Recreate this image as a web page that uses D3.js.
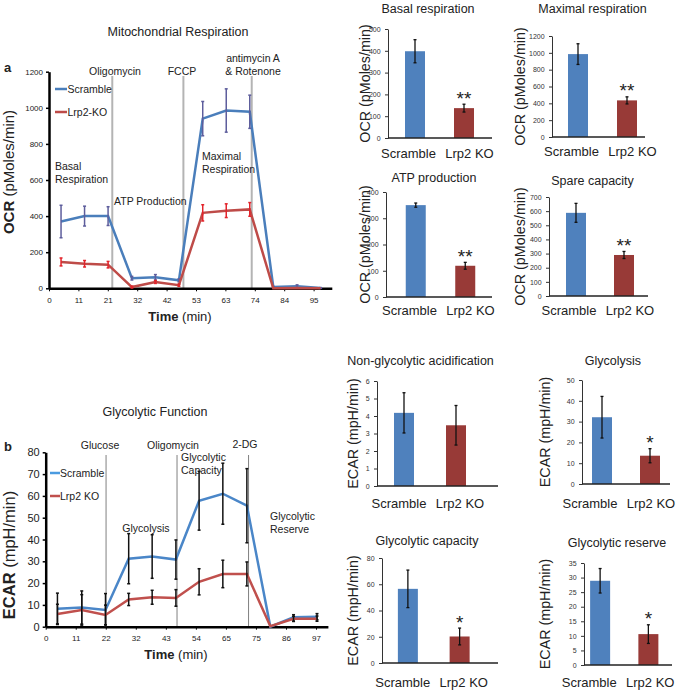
<!DOCTYPE html>
<html>
<head>
<meta charset="utf-8">
<script src="https://cdn.jsdelivr.net/npm/d3@7"></script>
<style>
body { margin: 0; background: #fff; }
svg { font-family: "Liberation Sans", Arial, sans-serif; }
</style>
</head>
<body>
<svg id="fig" width="677" height="690"></svg>
<script>
// ---- mitochondrial respiration (OCR) time course ----
const timeA = [4.3, 12.7, 21.1, 29.6, 38.0, 46.4, 54.9, 63.3, 71.7, 80.1, 88.6, 97.0]
const ocrScramble = [370, 400, 400, 56, 61, 44, 940, 985, 978, 7, 11, 2]
const ocrScrambleErr = [90, 55, 52, 10, 15, 8, 95, 120, 92, 3, 8, 2]
const ocrKO = [146, 136, 131, 7, 35, 17, 418, 430, 437, 0, 2, 0]
const ocrKOErr = [22, 18, 18, 5, 8, 6, 45, 38, 38, 0, 0, 0]
const ticksA = [0, 10.5, 21, 31.5, 42, 52.5, 63, 73.5, 84, 94.5]
const tickLabelsA = ["0", "11", "21", "32", "42", "53", "63", "74", "84", "95"]
const injA = [22.6, 48.0, 72.4]

// ---- glycolytic function (ECAR) time course ----
const timeB = [4.2, 12.9, 21.4, 29.7, 38.1, 46.6, 54.9, 63.4, 72.0, 80.4, 88.7, 97.1]
const ecarScramble = [8.2, 8.8, 7.7, 31.2, 32.2, 30.8, 57.8, 61.0, 55.5, 0, 4.3, 4.6]
const ecarScrambleErr = [7.2, 7.6, 7.5, 11.5, 10, 9, 13.5, 14, 17, 0, 1.2, 1.4]
const ecarKO = [5.8, 7.7, 5.4, 12.5, 13.5, 13.2, 20.6, 24.2, 24.2, 0.2, 3.6, 3.7]
const ecarKOErr = [4.5, 7, 4.5, 2.8, 3.2, 3.8, 6, 6.3, 5.5, 0, 1.2, 1.2]
const ticksB = [0, 10.75, 21.5, 32.25, 43, 53.75, 64.5, 75.25, 86, 96.75]
const tickLabelsB = ["0", "11", "22", "32", "43", "54", "65", "75", "86", "97"]
const injB = [21.6, 47.0, 72.6]

// ---- bar panels ----
const groups = ["Scramble", "Lrp2 KO"]
const basal = [398, 137], basalErr = [53, 18]
const maximal = [985, 435], maximalErr = [123, 42]
const atp = [350, 119], atpErr = [8, 13]
const spare = [588, 290], spareErr = [67, 25]
const nonGly = [4.18, 3.47], nonGlyErr = [1.15, 1.13]
const glycolysis = [32.1, 13.6], glycolysisErr = [10, 3.4]
const glyCap = [56.5, 20.2], glyCapErr = [14.3, 6.4]
const glyRes = [28.9, 10.6], glyResErr = [4.2, 3.2]

const svg = d3.select("#fig")
const blue = "#4a7ebb", red = "#be4b48"

var txt = (g, x, y, s, size, anchor, extra) => {
    let t = g.append("text").attr("x", x).attr("y", y).attr("font-size", size)
        .attr("text-anchor", anchor || "start").attr("fill", "#222").text(s)
    if (extra) extra(t)
    return t
}

var lineChart = (c) => {
    let g = svg.append("g")
    let x = d3.scaleLinear().domain([0, 101]).range(c.xRange)
    let y = d3.scaleLinear().domain([0, c.yMax]).range(c.yRange)

    g.selectAll(".inj").data(c.inj).join("line")
        .attr("x1", d => x(d)).attr("x2", d => x(d))
        .attr("y1", c.injTop).attr("y2", y(0))
        .attr("stroke", c.injColor).attr("stroke-width", c.injWidth)

    let xAxis = g.append("g").attr("transform", `translate(0,${y(0)})`)
        .call(d3.axisBottom(x).tickValues(c.ticks).tickFormat((d, i) => c.tickLabels[i]).tickSize(3).tickSizeOuter(0))
    xAxis.select(".domain").attr("stroke", "#000").attr("stroke-width", 2.5)
    xAxis.selectAll("text").attr("font-size", 8).attr("fill", "#222").attr("dy", "1.1em")

    let yAxis = g.append("g").attr("transform", `translate(${x(0)},0)`)
        .call(d3.axisLeft(y).tickValues(d3.range(0, c.yMax + 1, c.yStep)).tickFormat(d3.format("d")).tickSize(3).tickSizeOuter(0))
    yAxis.select(".domain").attr("stroke", "#000").attr("stroke-width", 2.5)
    yAxis.selectAll(".tick line").attr("stroke-width", 1.5)
    yAxis.selectAll("text").attr("font-size", c.yFont).attr("fill", "#222")

    let line = d3.line().x(d => x(d.t)).y(d => y(d.v))
    c.series.forEach(s => {
        let pts = s.t.map((t, i) => ({ t: t, v: s.v[i], e: s.e[i] }))
        g.append("path").datum(pts).attr("d", line)
            .attr("fill", "none").attr("stroke", s.color).attr("stroke-width", 2.5)
        let eb = g.append("g").attr("stroke", s.errColor).attr("stroke-width", 1.5)
        eb.selectAll(".v").data(pts.filter(d => d.e > 0)).join("line")
            .attr("x1", d => x(d.t)).attr("x2", d => x(d.t))
            .attr("y1", d => y(d.v - d.e)).attr("y2", d => y(d.v + d.e))
        eb.selectAll(".cap").data(pts.filter(d => d.e > 0).flatMap(d => [[d.t, d.v - d.e], [d.t, d.v + d.e]])).join("line")
            .attr("x1", d => x(d[0]) - 1.5).attr("x2", d => x(d[0]) + 1.5)
            .attr("y1", d => y(d[1])).attr("y2", d => y(d[1]))
    })
    return g
}

// panel a
let ga = lineChart({
    xRange: [49, 331.8], yRange: [288.3, 71.7], yMax: 1200, yStep: 200, yFont: 8,
    ticks: ticksA, tickLabels: tickLabelsA, inj: injA, injTop: 76, injColor: "#b4b4b4", injWidth: 2,
    series: [
        { t: timeA, v: ocrScramble, e: ocrScrambleErr, color: blue, errColor: "#5d5d9c" },
        { t: timeA, v: ocrKO, e: ocrKOErr, color: red, errColor: "#e3242b" }
    ]
})
txt(ga, 178, 36, "Mitochondrial Respiration", 12.5, "middle")
txt(ga, 4, 72, "a", 13, "start", t => t.attr("font-weight", "bold"))
txt(ga, 115, 75, "Oligomycin", 10.5, "middle")
txt(ga, 182, 75, "FCCP", 10.5, "middle")
txt(ga, 253, 62, "antimycin A", 10.5, "middle")
txt(ga, 253, 75, "& Rotenone", 10.5, "middle")
txt(ga, 55, 170, "Basal", 10.5)
txt(ga, 55, 182.5, "Respiration", 10.5)
txt(ga, 114, 205, "ATP Production", 10.5)
txt(ga, 202, 160, "Maximal", 10.5)
txt(ga, 202, 172.5, "Respiration", 10.5)
ga.append("line").attr("x1", 55).attr("x2", 67).attr("y1", 89).attr("y2", 89).attr("stroke", blue).attr("stroke-width", 2.5)
txt(ga, 67.5, 92.5, "Scramble", 10.5)
ga.append("line").attr("x1", 55).attr("x2", 67).attr("y1", 112).attr("y2", 112).attr("stroke", red).attr("stroke-width", 2.5)
txt(ga, 67.5, 115.5, "Lrp2-KO", 10.5)
let xtA = txt(ga, 180, 321, "", 13, "middle")
xtA.append("tspan").attr("font-weight", "bold").text("Time")
xtA.append("tspan").text(" (min)")
let ytA = txt(ga, 0, 0, "", 15, "middle", t => t.attr("transform", "translate(14,172) rotate(-90)"))
ytA.append("tspan").attr("font-weight", "bold").text("OCR")
ytA.append("tspan").text(" (pMoles/min)")

// panel b
let gb = lineChart({
    xRange: [45.7, 327.9], yRange: [626.7, 452.3], yMax: 80, yStep: 10, yFont: 11,
    ticks: ticksB, tickLabels: tickLabelsB, inj: injB, injTop: 455, injColor: "#808080", injWidth: 1,
    series: [
        { t: timeB, v: ecarScramble, e: ecarScrambleErr, color: "#4a86c8", errColor: "#111" },
        { t: timeB, v: ecarKO, e: ecarKOErr, color: "#c0504d", errColor: "#111" }
    ]
})
txt(gb, 155, 416, "Glycolytic Function", 12.5, "middle")
txt(gb, 4, 451, "b", 13, "start", t => t.attr("font-weight", "bold"))
txt(gb, 100, 449, "Glucose", 10.5, "middle")
txt(gb, 173, 449, "Oligomycin", 10.5, "middle")
txt(gb, 245, 448, "2-DG", 10.5, "middle")
txt(gb, 181, 461, "Glycolytic", 10.5)
txt(gb, 181, 473.5, "Capacity", 10.5)
txt(gb, 146, 532, "Glycolysis", 10.5, "middle")
txt(gb, 270, 520, "Glycolytic", 10.5)
txt(gb, 270, 532.5, "Reserve", 10.5)
gb.append("line").attr("x1", 50).attr("x2", 60).attr("y1", 473).attr("y2", 473).attr("stroke", "#4a9be0").attr("stroke-width", 2.5)
txt(gb, 60, 476.5, "Scramble", 10.5)
gb.append("line").attr("x1", 50).attr("x2", 60).attr("y1", 496).attr("y2", 496).attr("stroke", "#c0504d").attr("stroke-width", 2.5)
txt(gb, 60, 499.5, "Lrp2 KO", 10.5)
let xtB = txt(gb, 176, 659, "", 13, "middle")
xtB.append("tspan").attr("font-weight", "bold").text("Time")
xtB.append("tspan").text(" (min)")
let ytB = txt(gb, 0, 0, "", 16.5, "middle", t => t.attr("transform", "translate(15,555) rotate(-90)"))
ytB.append("tspan").attr("font-weight", "bold").text("ECAR")
ytB.append("tspan").text(" (mpH/min)")

// ---- bar panels ----
var barPanel = (p) => {
    let g = svg.append("g")
    let y = d3.scaleLinear().domain([0, p.max]).range([p.y0, p.yTop])
    let s = (p.band[1] - p.band[0]) / 2
    let pad = 1 - 20 / s
    let x = d3.scaleBand().domain(groups).range(p.band).paddingInner(pad).paddingOuter(pad / 2)

    let yAxis = g.append("g").attr("transform", `translate(${p.ax[0]},0)`)
        .call(d3.axisLeft(y).tickValues(d3.range(0, p.max + p.step / 2, p.step)).tickFormat(d3.format("~g")).tickSize(3).tickSizeOuter(0))
    yAxis.select(".domain").attr("stroke", "#333").attr("stroke-width", 1)
    yAxis.selectAll(".tick line").attr("stroke", "#333")
    yAxis.selectAll("text").attr("font-size", 7).attr("fill", "#333").attr("dx", "-0.2em")

    g.selectAll(".bar").data(p.vals).join("rect")
        .attr("x", (d, i) => x(groups[i]))
        .attr("y", d => y(d))
        .attr("width", x.bandwidth())
        .attr("height", d => y(0) - y(d))
        .attr("fill", (d, i) => i == 0 ? "#4f81bd" : "#983a37")

    g.append("line").attr("x1", p.ax[0]).attr("x2", p.ax[1]).attr("y1", y(0)).attr("y2", y(0))
        .attr("stroke", "#222").attr("stroke-width", 1.5)

    let eb = g.append("g").attr("stroke", "#111").attr("stroke-width", 1.3)
    p.vals.forEach((v, i) => {
        let cx = x(groups[i]) + x.bandwidth() / 2
        eb.append("line").attr("x1", cx).attr("x2", cx).attr("y1", y(v - p.errs[i])).attr("y2", y(v + p.errs[i]))
        eb.append("line").attr("x1", cx - 1.5).attr("x2", cx + 1.5).attr("y1", y(v - p.errs[i])).attr("y2", y(v - p.errs[i]))
        eb.append("line").attr("x1", cx - 1.5).attr("x2", cx + 1.5).attr("y1", y(v + p.errs[i])).attr("y2", y(v + p.errs[i]))
    })
    if (p.star) {
        let cx = x(groups[1]) + x.bandwidth() / 2
        txt(g, cx, y(p.vals[1] + p.errs[1]) + 0.5, p.star, 19, "middle")
    }
    // category labels sit wider apart than the bars
    let mid = (x(groups[0]) + x(groups[1]) + x.bandwidth()) / 2 + (p.catDx || 0)
    groups.forEach((gr, i) => txt(g, mid + (i == 0 ? -31 : 30), p.catY, gr, 13, "middle"))
    txt(g, (p.ax[0] + p.ax[1]) / 2 + p.titleDx, p.titleY, p.title, 12.5, "middle")
    txt(g, 0, 0, p.yLabel, 14.3, "middle", t => t.attr("transform", `translate(${p.ylx},${(p.y0 + p.yTop) / 2}) rotate(-90)`))
}

const ocrLab = "OCR (pMoles/min)", ecarLab = "ECAR (mpH/min)"
barPanel({ title: "Basal respiration", vals: basal, errs: basalErr, max: 500, step: 100, y0: 138, yTop: 29,
    ax: [388, 492], band: [390.5, 488.5], star: "**", catY: 158, titleY: 13, titleDx: -12, yLabel: ocrLab, ylx: 370 })
barPanel({ title: "Maximal respiration", vals: maximal, errs: maximalErr, max: 1200, step: 200, y0: 137, yTop: 36,
    ax: [552, 645], band: [553.5, 651.5], star: "**", catY: 156, titleY: 13, titleDx: -6, yLabel: ocrLab, ylx: 525 })
barPanel({ title: "ATP production", vals: atp, errs: atpErr, max: 400, step: 100, y0: 297, yTop: 192,
    ax: [386, 492], band: [391, 490], star: "**", catY: 315, titleY: 182, titleDx: -5, yLabel: ocrLab, ylx: 370 })
barPanel({ title: "Spare capacity", vals: spare, errs: spareErr, max: 700, step: 100, y0: 296, yTop: 197,
    ax: [549, 648], band: [552, 648], star: "**", catY: 315, titleY: 185, titleDx: -6, yLabel: ocrLab, ylx: 525 })
barPanel({ title: "Non-glycolytic acidification", vals: nonGly, errs: nonGlyErr, max: 6, step: 1, y0: 486, yTop: 381,
    ax: [377, 498], band: [378, 482], star: null, catY: 508, titleY: 365, titleDx: -17, yLabel: ecarLab, ylx: 358 })
barPanel({ title: "Glycolysis", vals: glycolysis, errs: glycolysisErr, max: 50, step: 10, y0: 484, yTop: 380,
    ax: [582, 670], band: [578, 674], star: "*", catY: 508, titleY: 365, titleDx: -13, yLabel: ecarLab, ylx: 550, catDx: -5 })
barPanel({ title: "Glycolytic capacity", vals: glyCap, errs: glyCapErr, max: 80, step: 20, y0: 663, yTop: 558,
    ax: [382, 498], band: [382, 485.5], star: "*", catY: 687, titleY: 545, titleDx: -13, yLabel: ecarLab, ylx: 358 })
barPanel({ title: "Glycolytic reserve", vals: glyRes, errs: glyResErr, max: 35, step: 5, y0: 665, yTop: 563,
    ax: [584, 672], band: [576, 672.5], star: "*", catY: 687, titleY: 547, titleDx: -11, yLabel: ecarLab, ylx: 550, catDx: -4 })
</script>
</body>
</html>
